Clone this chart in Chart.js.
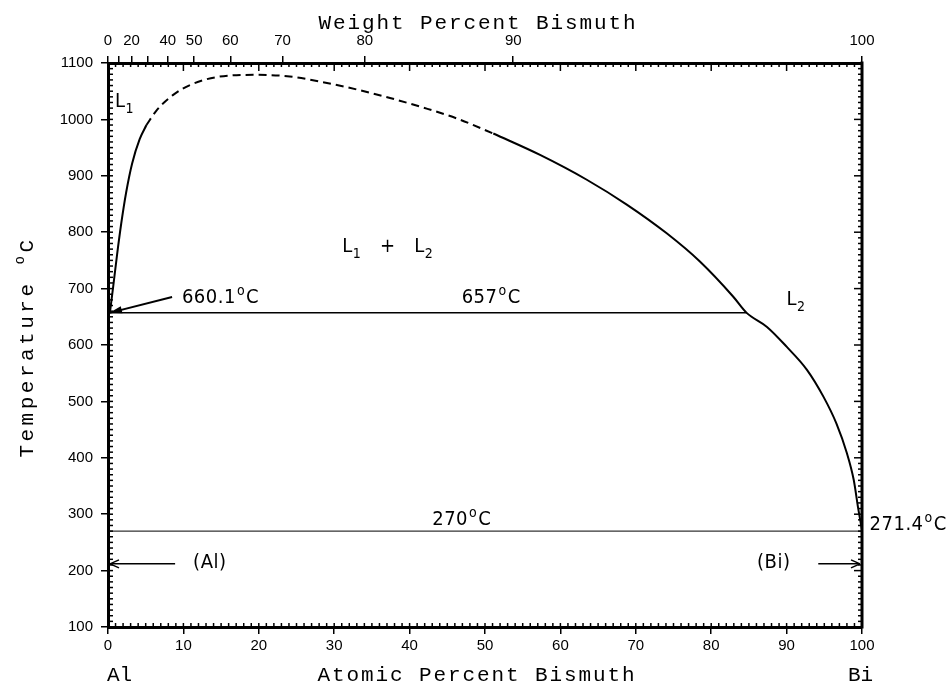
<!DOCTYPE html>
<html>
<head>
<meta charset="utf-8">
<script src="https://cdn.jsdelivr.net/npm/chart.js@4.4.0/dist/chart.umd.min.js"></script>
<style>
  html, body { margin: 0; padding: 0; background: #fff; }
</style>
</head>
<body>
<canvas id="c" width="951" height="686"></canvas>
<script>
// Al-Bi phase diagram: liquidus / miscibility gap
const leftX = [0.25, 0.7, 1.2, 1.75, 2.4, 3.2, 4.2, 5.1];
const leftT = [657, 705, 760, 815, 870, 922, 965, 990];

const domeX = [5.1, 6.5, 8.6, 10.9, 14.4, 19.7, 24.1, 28.5, 33, 37.4, 41.8, 46.2, 51.1];
const domeT = [990, 1017, 1043, 1061, 1075, 1079, 1076, 1066, 1053, 1038, 1021, 1002, 975];

const rightX = [51.1, 57.3, 63.5, 68.8, 74.1, 78.5, 82.9, 84.7, 87.4, 90, 92.7, 94.9, 96.6, 98, 98.9, 99.5, 100];
const rightT = [975, 937, 893, 849, 798, 748, 686, 657, 632, 597, 556, 508, 461, 408, 361, 310, 271.4];

const monotecticX = [0, 84.7];
const monotecticT = [657, 657];
const eutecticX = [0, 100];
const eutecticT = [270, 270];

// top axis: weight percent ticks
const wtTicks = [0, 10, 20, 30, 40, 50, 60, 70, 80, 90, 100];
const wtLabels = ['0', '', '20', '', '40', '50', '60', '70', '80', '90', '100'];

const AL = 26.98, BI = 208.98;
function wtToAt(w) {
  if (w >= 100) return 100;
  const b = w / BI, a = (100 - w) / AL;
  return 100 * b / (a + b);
}

const pts = (xs, ys) => xs.map((x, i) => ({ x: x, y: ys[i] }));

const tickFont = { family: 'Liberation Sans, Arial, sans-serif', size: 15 };
const NARROW = '"Liberation Sans Narrow", "DejaVu Sans Condensed", sans-serif';
const MONO = '"Liberation Mono", "DejaVu Sans Mono", monospace';

// text pieces: [text, kind] where kind is '', 'sup' or 'sub'
function rich(ctx, segs, x, y, o) {
  const size = o.size, fam = o.family;
  ctx.letterSpacing = (o.spacing || 0) + 'px';
  const fontFor = k => (k ? Math.round(size * 0.68) : size) + 'px ' + fam;
  let total = 0;
  const widths = segs.map(s => {
    ctx.font = fontFor(s[1]);
    const w = ctx.measureText(s[0]).width + (s[2] || 0);
    total += w;
    return w;
  });
  let cx = o.align === 'center' ? x - total / 2 : x;
  ctx.textBaseline = 'alphabetic';
  ctx.textAlign = 'left';
  segs.forEach((s, i) => {
    ctx.font = fontFor(s[1]);
    const dy = s[1] === 'sup' ? -size * 0.42 : s[1] === 'sub' ? size * 0.3 : 0;
    ctx.fillText(s[0], cx + (s[2] || 0), y + dy);
    cx += widths[i];
  });
  ctx.letterSpacing = '0px';
}

function line(ctx, x1, y1, x2, y2) {
  ctx.beginPath(); ctx.moveTo(x1, y1); ctx.lineTo(x2, y2); ctx.stroke();
}

// in-plot labels (data coordinates)
const labels = [
  { x: 0.93, t: 1022, segs: [['L', ''], ['1', 'sub']] },
  { x: 37.1, t: 765, align: 'center', segs: [['L', ''], ['1', 'sub'], ['   +   ', ''], ['L', ''], ['2', 'sub']] },
  { x: 9.8, t: 674, segs: [['660.1', ''], ['o', 'sup', 1], ['C', '', 1]] },
  { x: 46.9, t: 674, segs: [['657', ''], ['o', 'sup', 1], ['C', '', 1]] },
  { x: 90.0, t: 671, segs: [['L', ''], ['2', 'sub']] },
  { x: 43.0, t: 281, segs: [['270', ''], ['o', 'sup', 1], ['C', '', 1]] },
  { x: 101.0, t: 272, segs: [['271.4', ''], ['o', 'sup', 1], ['C', '', 1]] },
  { x: 13.5, t: 205, align: 'center', segs: [['(Al)', '']] },
  { x: 88.3, t: 205, align: 'center', segs: [['(Bi)', '']] }
];

const decor = {
  id: 'decor',
  afterDraw(chart) {
    const ctx = chart.ctx, a = chart.chartArea;
    const x = chart.scales.x, y = chart.scales.y;
    ctx.save();
    ctx.strokeStyle = '#000';
    ctx.fillStyle = '#000';

    // right frame
    ctx.lineWidth = 3;
    line(ctx, a.right, a.top - 1.5, a.right, a.bottom + 1.5);

    // inward minor ticks
    ctx.lineWidth = 1.5;
    for (let v = 0; v <= 100; v++) {
      const px = x.getPixelForValue(v);
      line(ctx, px, a.bottom, px, a.bottom - 4);
      line(ctx, px, a.top, px, a.top + (v % 10 ? 4 : 8));
    }
    for (let t = 100; t <= 1100; t += 10) {
      const py = y.getPixelForValue(t);
      line(ctx, a.left, py, a.left + 5, py);
      line(ctx, a.right, py, a.right - (t % 100 ? 4 : 8), py);
    }

    // arrows
    const X = v => x.getPixelForValue(v), Y = v => y.getPixelForValue(v);
    ctx.lineWidth = 1.5;
    const ay = Y(212);
    line(ctx, X(8.9), ay, X(0) + 2, ay);
    line(ctx, X(0) + 2, ay, X(0) + 11, ay - 4); line(ctx, X(0) + 2, ay, X(0) + 11, ay + 4);
    line(ctx, X(94.2), ay, X(100) - 2, ay);
    line(ctx, X(100) - 2, ay, X(100) - 11, ay - 4); line(ctx, X(100) - 2, ay, X(100) - 11, ay + 4);

    // 660.1 pointer
    const tx = X(8.5), ty = Y(685), hx = X(0.2), hy = Y(657);
    ctx.lineWidth = 2;
    line(ctx, tx, ty, hx, hy);
    const ang = Math.atan2(hy - ty, hx - tx);
    ctx.beginPath();
    ctx.moveTo(hx, hy);
    ctx.lineTo(hx - 13 * Math.cos(ang - 0.28), hy - 13 * Math.sin(ang - 0.28));
    ctx.lineTo(hx - 13 * Math.cos(ang + 0.28), hy - 13 * Math.sin(ang + 0.28));
    ctx.closePath(); ctx.fill();

    // in-plot labels
    labels.forEach(l => {
      rich(ctx, l.segs, X(l.x), Y(l.t), { size: 20, family: NARROW, align: l.align || 'left', spacing: 0.5 });
    });

    // axis titles
    rich(ctx, [['Weight Percent Bismuth', '']], 478, 29, { size: 21, family: MONO, align: 'center', spacing: 1.9 });
    rich(ctx, [['Atomic Percent Bismuth', '']], 477, 681, { size: 21, family: MONO, align: 'center', spacing: 1.9 });
    rich(ctx, [['Al', '']], 107, 681, { size: 21, family: MONO, spacing: 0 });
    rich(ctx, [['Bi', '']], 848, 681, { size: 21, family: MONO, spacing: 0 });
    ctx.save();
    ctx.translate(33, 347);
    ctx.rotate(-Math.PI / 2);
    rich(ctx, [['Temperature ', ''], ['o', 'sup'], ['C', '']], 0, 0, { size: 21, family: MONO, align: 'center', spacing: 3.5 });
    ctx.restore();

    ctx.restore();
  }
};

const curve = { borderColor: '#000', borderWidth: 2, pointRadius: 0, showLine: true, fill: false, cubicInterpolationMode: 'monotone' };

new Chart(document.getElementById('c'), {
  type: 'scatter',
  data: {
    datasets: [
      Object.assign({ data: pts(leftX, leftT) }, curve),
      Object.assign({ data: pts(domeX, domeT), borderDash: [8, 5] }, curve),
      Object.assign({ data: pts(rightX, rightT) }, curve),
      Object.assign({}, curve, { data: pts(monotecticX, monotecticT), borderWidth: 1.5 }),
      Object.assign({}, curve, { data: pts(eutecticX, eutecticT), borderWidth: 1 })
    ]
  },
  options: {
    responsive: false,
    animation: false,
    layout: { padding: { left: 0, right: 89, top: 0, bottom: 0 } },
    plugins: { legend: { display: false }, tooltip: { enabled: false } },
    scales: {
      x: {
        type: 'linear', position: 'bottom', min: 0, max: 100,
        ticks: { stepSize: 10, font: tickFont, color: '#000', padding: 3, maxRotation: 0, callback: v => String(v) },
        grid: { drawOnChartArea: false, color: '#000', lineWidth: 1.5, tickLength: 7 },
        border: { color: '#000', width: 3 },
        afterFit(s) { s.height = 59; }
      },
      xTop: {
        type: 'linear', position: 'top', min: 0, max: 100,
        afterBuildTicks(s) { s.ticks = wtTicks.map(w => ({ value: wtToAt(w) })); },
        ticks: { autoSkip: false, font: tickFont, color: '#000', padding: 6, maxRotation: 0,
                 callback: (v, i) => wtLabels[i] },
        grid: { drawOnChartArea: false, color: '#000', lineWidth: 1.5, tickLength: 7 },
        border: { color: '#000', width: 3 },
        afterFit(s) { s.height = 63; }
      },
      y: {
        type: 'linear', position: 'left', min: 100, max: 1100,
        ticks: { stepSize: 100, font: tickFont, color: '#000', padding: 8, callback: v => String(v) },
        grid: { drawOnChartArea: false, color: '#000', lineWidth: 1.5, tickLength: 7 },
        border: { color: '#000', width: 3 },
        afterFit(s) { s.width = 108; }
      }
    }
  },
  plugins: [decor]
});
</script>
</body>
</html>
